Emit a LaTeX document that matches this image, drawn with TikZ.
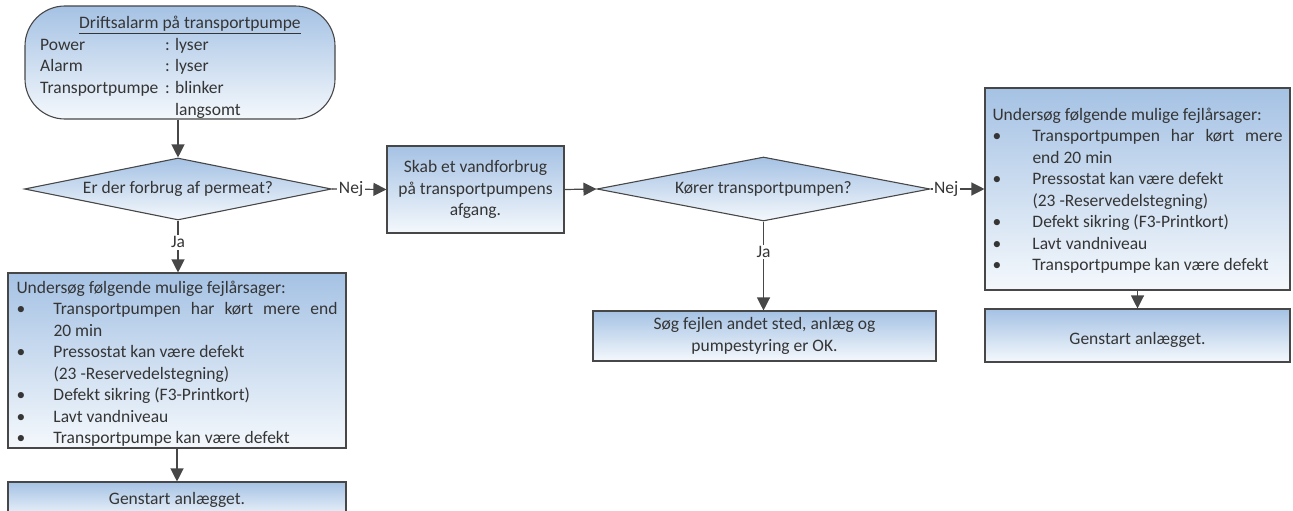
\documentclass[tikz,border=0pt]{standalone}
\usepackage{fontspec}
\setmainfont{Carlito}
\usetikzlibrary{shapes.geometric,arrows.meta}

\definecolor{gradtop}{HTML}{A5C2E4}
\definecolor{gradbot}{HTML}{F4F8FC}
\definecolor{edge}{HTML}{474747}
\definecolor{ink}{HTML}{353535}

% bullet item with hanging indent (#1 = indent of the item text)
\newcommand\punkt[1]{\par\noindent\hangindent=#1\hangafter=1\makebox[#1][l]{\textbullet}\ignorespaces}
% forced break that leaves the line unstretched
\newcommand\brud{\hspace*{\fill}\linebreak}

\begin{document}
\begin{tikzpicture}[x=1pt,y=-1pt,
  font=\fontsize{17.5}{21.5}\selectfont, text=ink,
  shapebox/.style={draw=edge, line width=1.1pt, top color=gradtop, bottom color=gradbot, inner sep=0pt},
  flowbox/.style={shapebox, rectangle},
  decision/.style={shapebox, diamond, aspect=5},
  flow/.style={draw=edge, line width=1.2pt, -{Triangle[length=13pt,width=13pt]}},
  answer/.style={fill=white, inner sep=1.5pt, text=ink},
  plaintext/.style={inner sep=0pt, text=ink}]

\path[use as bounding box] (0,0) rectangle (1293,511);
\clip (0,0) rectangle (1293,511);

% start terminator
\node[shapebox, rectangle, rounded corners=40pt, minimum width=310pt, minimum height=113pt] (start) at (180,62.5) {};
\node[plaintext, anchor=base west, font=\fontsize{17.5}{21.7}\selectfont] (starttxt) at (40,28.5)
  {\begin{tabular}[t]{@{}l@{}}
   \hspace*{39pt}\underline{Driftsalarm på transportpumpe}\\
   \makebox[125pt][l]{Power}: lyser\\
   \makebox[125pt][l]{Alarm}: lyser\\
   \makebox[125pt][l]{Transportpumpe}: blinker\\
   \makebox[125pt][l]{}\phantom{: }langsomt
   \end{tabular}};

% decisions and steps
\node[decision, minimum width=307pt, minimum height=62pt] (q1) at (178,189) {Er der forbrug af permeat?};
\node[flowbox, minimum width=177pt, minimum height=87pt, align=center] (skab) at (475.5,189.5)
  {Skab et vandforbrug\\på transportpumpens\\afgang.};
\node[decision, minimum width=333pt, minimum height=64pt] (q2) at (763.5,189) {Kører transportpumpen?};
\node[flowbox, minimum width=343pt, minimum height=50pt, align=center] (soeg) at (764.5,336)
  {Søg fejlen andet sted, anlæg og\\pumpestyring er OK.};

% cause lists
\node[flowbox, minimum width=338pt, minimum height=175pt] (fejlA) at (177,360.5) {};
\node[plaintext, text width=321pt, align=justify] (fejlAtxt) at (177,363.5)
  {\noindent Undersøg følgende mulige fejlårsager:
   \punkt{37pt}Transportpumpen har kørt mere end\linebreak 20 min
   \punkt{37pt}Pressostat kan være defekt\brud (23 -Reservedelstegning)
   \punkt{37pt}Defekt sikring (F3-Printkort)
   \punkt{37pt}Lavt vandniveau
   \punkt{37pt}Transportpumpe kan være defekt\par};
\node[flowbox, minimum width=305pt, minimum height=202pt] (fejlB) at (1137.5,189) {};
\node[plaintext, text width=290pt, align=justify] (fejlBtxt) at (1137.5,190.5)
  {\noindent Undersøg følgende mulige fejlårsager:
   \punkt{40pt}Transportpumpen har kørt mere\linebreak end 20 min
   \punkt{40pt}Pressostat kan være defekt\brud (23 -Reservedelstegning)
   \punkt{40pt}Defekt sikring (F3-Printkort)
   \punkt{40pt}Lavt vandniveau
   \punkt{40pt}Transportpumpe kan være defekt\par};

% restart boxes
\node[flowbox, minimum width=338pt, minimum height=38pt] (genA) at (177,501) {};
\node[plaintext] (genAtxt) at (177,500) {Genstart anlægget.};
\node[flowbox, minimum width=305pt, minimum height=53pt] (genB) at (1137.5,335.5) {};
\node[plaintext] (genBtxt) at (1137.5,340) {Genstart anlægget.};

% connectors
\draw[flow] (q1.north |- start.south) -- (q1.north);
\draw[flow] (q1.east) -- node[answer, pos=0.35] (nejA) {Nej} (skab.west);
\draw[flow] (q1.south) -- node[answer, pos=0.42] (jaA) {Ja} (q1.south |- fejlA.north);
\draw[flow] (fejlA.south) -- (genA.north);
\draw[flow] (skab.east) -- (q2.west);
\draw[flow] (q2.south) -- node[answer, pos=0.34] (jaB) {Ja} (q2.south |- soeg.north);
\draw[flow] (q2.east) -- node[answer, pos=0.29] (nejB) {Nej} (fejlB.west);
\draw[flow] (fejlB.south) -- (genB.north);
\end{tikzpicture}
\end{document}
